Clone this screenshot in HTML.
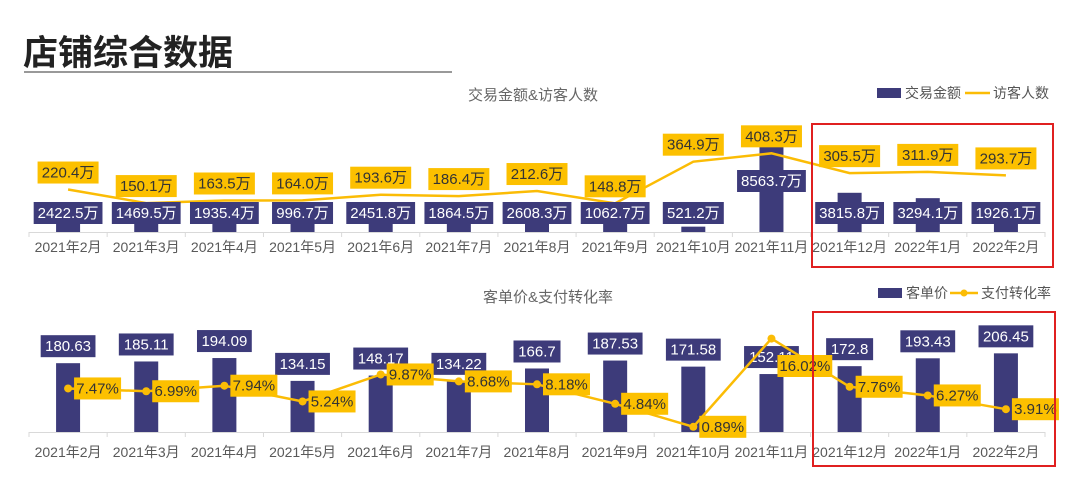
<!DOCTYPE html>
<html><head><meta charset="utf-8">
<style>
body{margin:0;background:#fff;width:1080px;height:474px;overflow:hidden;font-family:"Liberation Sans","Noto Sans CJK SC",sans-serif;}
svg text{font-family:"Liberation Sans","Noto Sans CJK SC",sans-serif;}
</style></head>
<body>
<svg id="chart" width="1080" height="474" xmlns="http://www.w3.org/2000/svg">
<text x="23" y="65" font-size="35" font-weight="bold" fill="#222">店铺综合数据</text>
<rect x="24" y="71" width="428" height="2" fill="#999"/>
<text x="533" y="100" font-size="15" fill="#666" text-anchor="middle">交易金额&amp;访客人数</text>
<g>
<rect x="877" y="88" width="24" height="10" fill="#3d3b7a"/>
<text x="905" y="98" font-size="14" fill="#555">交易金额</text>
<line x1="965" y1="93" x2="990" y2="93" stroke="#fbbc05" stroke-width="2.5"/>
<text x="993" y="98" font-size="14" fill="#555">访客人数</text>
</g>
<text x="548" y="302" font-size="15" fill="#666" text-anchor="middle">客单价&amp;支付转化率</text>
<g>
<rect x="878" y="288" width="24" height="10" fill="#3d3b7a"/>
<text x="906" y="298" font-size="14" fill="#555">客单价</text>
<line x1="950" y1="293" x2="978" y2="293" stroke="#fbbc05" stroke-width="2.5"/>
<circle cx="964" cy="293" r="3.5" fill="#fbbc05"/>
<text x="981" y="298" font-size="14" fill="#555">支付转化率</text>
</g>
<g id="topChart"></g>
<g id="botChart"></g>
<rect x="812" y="124" width="241" height="143" fill="none" stroke="#e02020" stroke-width="2"/>
<rect x="813" y="312" width="242" height="154" fill="none" stroke="#e02020" stroke-width="2"/>
</svg>
<script>
const categories=["2021年2月","2021年3月","2021年4月","2021年5月","2021年6月","2021年7月","2021年8月","2021年9月","2021年10月","2021年11月","2021年12月","2022年1月","2022年2月"];
const amountValues=[2422.5,1469.5,1935.4,996.7,2451.8,1864.5,2608.3,1062.7,521.2,8563.7,3815.8,3294.1,1926.1];
const visitorValues=[220.4,150.1,163.5,164.0,193.6,186.4,212.6,148.8,364.9,408.3,305.5,311.9,293.7];
const priceValues=[180.63,185.11,194.09,134.15,148.17,134.22,166.7,187.53,171.58,152.11,172.8,193.43,206.45];
const conversionValues=[7.47,6.99,7.94,5.24,9.87,8.68,8.18,4.84,0.89,16.02,7.76,6.27,3.91];

const NS="http://www.w3.org/2000/svg";
function mk(parent,tag,attrs){const e=document.createElementNS(NS,tag);for(const k in attrs)e.setAttribute(k,attrs[k]);parent.appendChild(e);return e;}
const x0=29,x1=1045,cw=(x1-x0)/categories.length;
function xc(i){return x0+cw*(i+0.5);}
const topBase=232,botBase=432;
function yAmount(v){return topBase-v*88/8563.7;}
function yVisitor(v){return topBase-v*0.1927;}
function yPrice(v){return botBase-v*0.381;}
function yConv(v){return botBase-v*5.83;}
function tw(s){let w=0;for(const c of s)w+=c.charCodeAt(0)>255?14:7.8;return w;}
function label(g,cx,cy,txt,bg,fg,name){
  const w=tw(txt)+8;
  const r=mk(g,'rect',{x:cx-w/2,y:cy-11,width:w,height:22,fill:bg});
  
  
  const t=mk(g,'text',{x:cx,y:cy+5,'font-size':15,'text-anchor':'middle',fill:fg});
  
  
  t.textContent=txt;
}
function axis(g,base,ly,nm){
  const l=mk(g,'line',{x1:x0,y1:base+0.5,x2:x1,y2:base+0.5,stroke:'#d9d9d9'});
  
  
  for(let i=0;i<=categories.length;i++){
    const t=mk(g,'line',{x1:x0+cw*i,y1:base,x2:x0+cw*i,y2:base+5,stroke:'#d9d9d9'});
    
    
  }
  categories.forEach((c,i)=>{
    const t=mk(g,'text',{x:xc(i),y:ly,'font-size':14,'text-anchor':'middle',fill:'#595959'});
    
    
    t.textContent=c;
  });
}
const topG=document.getElementById('topChart');
axis(topG,topBase,252,'top');
amountValues.forEach((v,i)=>{
  const y=yAmount(v);
  const b=mk(topG,'rect',{x:xc(i)-12,y:y,width:24,height:topBase-y,fill:'#3d3b7a'});
  
  
});
let pts=visitorValues.map((v,i)=>xc(i)+','+yVisitor(v)).join(' ');
const pl=mk(topG,'polyline',{points:pts,fill:'none',stroke:'#fbbc05','stroke-width':2.5});


amountValues.forEach((v,i)=>{
  label(topG,xc(i),Math.min(213,yAmount(v)+37),v.toFixed(1)+'万','#3d3b7a','#fff','amount-value-label');
});
visitorValues.forEach((v,i)=>{
  label(topG,xc(i),yVisitor(v)-17,v.toFixed(1)+'万','#fcc000','#333','visitor-value-label');
});
const botG=document.getElementById('botChart');
axis(botG,botBase,457,'bottom');
priceValues.forEach((v,i)=>{
  const y=yPrice(v);
  const b=mk(botG,'rect',{x:xc(i)-12,y:y,width:24,height:botBase-y,fill:'#3d3b7a'});
  
  
});
priceValues.forEach((v,i)=>{
  label(botG,xc(i),yPrice(v)-17,String(v),'#3d3b7a','#fff','price-value-label');
});
pts=conversionValues.map((v,i)=>xc(i)+','+yConv(v)).join(' ');
const cl=mk(botG,'polyline',{points:pts,fill:'none',stroke:'#fbbc05','stroke-width':2.5});


conversionValues.forEach((v,i)=>{
  const c=mk(botG,'circle',{cx:xc(i),cy:yConv(v),r:4,fill:'#fbbc05'});
  
  
});
conversionValues.forEach((v,i)=>{
  const txt=v.toFixed(2)+'%';
  const w=tw(txt)+8;
  label(botG,xc(i)+6+w/2,Math.max(yConv(v),366),txt,'#fcc000','#333','conversion-value-label');
});
</script>
</body></html>
